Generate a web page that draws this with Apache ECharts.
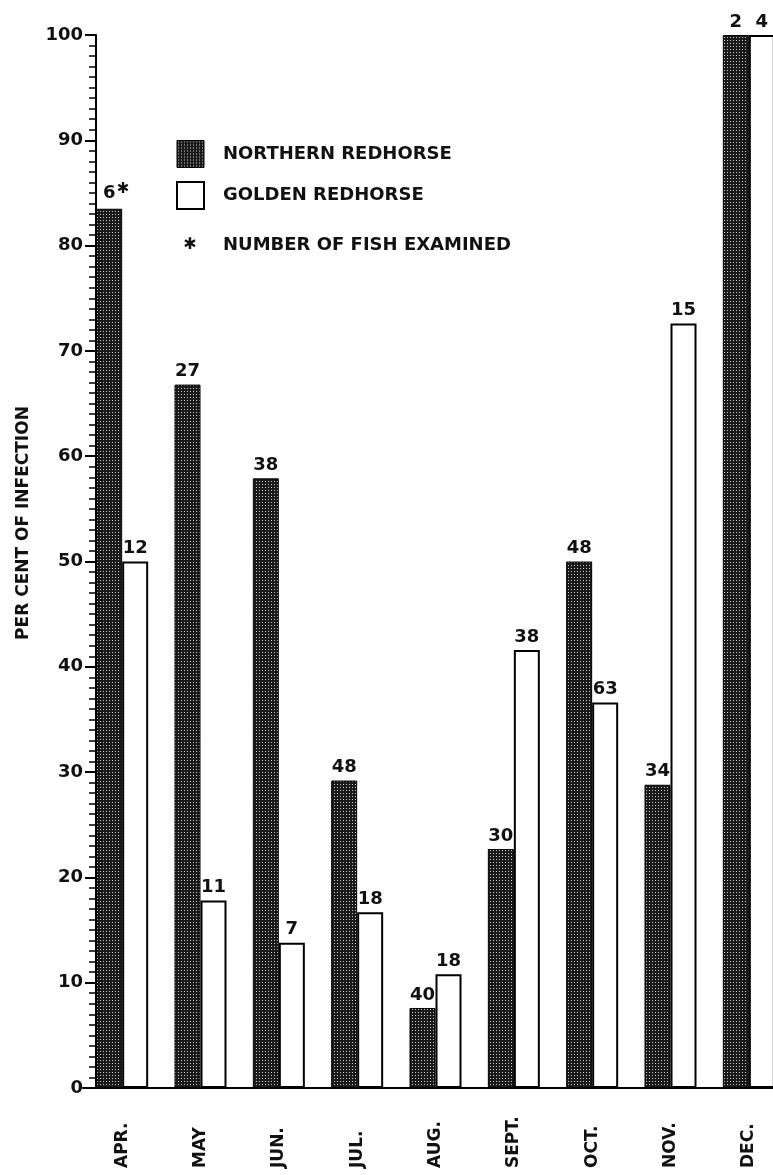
<!DOCTYPE html>
<html><head><meta charset="utf-8">
<script src="https://cdn.jsdelivr.net/npm/echarts@6/dist/echarts.min.js"></script>
<style>html,body{margin:0;padding:0;background:#fff}#c{width:773px;height:1175px}</style>
</head><body><div id="c"></div>
<script>
// ---- data ----
const months = ['APR.', 'MAY', 'JUN.', 'JUL.', 'AUG.', 'SEPT.', 'OCT.', 'NOV.', 'DEC.'];
const northernPct = [83.5, 66.8, 57.9, 29.2, 7.6, 22.7, 50, 28.8, 100];
const goldenPct = [50, 17.8, 13.8, 16.7, 10.8, 41.6, 36.6, 72.6, 100];
const northernFish = [6, 27, 38, 48, 40, 30, 48, 34, 2];
const goldenFish = [12, 11, 7, 18, 18, 38, 63, 15, 4];
const seriesNames = ['NORTHERN REDHORSE', 'GOLDEN REDHORSE'];
const noteText = 'NUMBER OF FISH EXAMINED';
const yTitle = 'PER CENT OF INFECTION';

// ---- stipple pattern ----
const pc = document.createElement('canvas');
pc.width = 3; pc.height = 3;
const g = pc.getContext('2d');
g.fillStyle = '#1a1a1a'; g.fillRect(0, 0, 3, 3);
g.fillStyle = '#c8c8c8'; g.fillRect(1, 1, 1, 1);
const stipple = { image: pc, repeat: 'repeat' };

const FONT = 'DejaVu Sans';
const ink = '#111';

const northernData = northernPct.map((v, i) => i === 0
  ? { value: v, label: { formatter: '{n|' + northernFish[0] + '}{s|✱}', offset: [7, 0] } }
  : v);

const chart = echarts.init(document.getElementById('c'), null, { renderer: 'canvas' });
chart.setOption({
  animation: false,
  backgroundColor: '#fff',
  grid: { left: 83, top: 35, bottom: 87, width: 705, containLabel: false, outerBoundsMode: 'none' },
  legend: {
    orient: 'vertical', left: 176, top: 140, padding: 0,
    itemWidth: 27, itemHeight: 27, itemGap: 13,
    textStyle: { fontFamily: FONT, fontWeight: 'bold', fontSize: 18, color: ink, padding: [0, 0, 0, 14] },
    data: [
      { name: seriesNames[0], icon: 'rect', itemStyle: { color: stipple, borderColor: '#000', borderWidth: 1 } },
      { name: seriesNames[1], icon: 'rect', itemStyle: { color: '#fff', borderColor: '#000', borderWidth: 2 } }
    ]
  },
  xAxis: {
    type: 'category', data: months, boundaryGap: true,
    axisLine: { lineStyle: { color: '#000', width: 2 } },
    axisTick: { show: false },
    axisLabel: {
      rotate: 90, align: 'left', verticalAlign: 'middle', margin: 80,
      fontFamily: FONT, fontWeight: 'bold', fontSize: 17, color: ink
    }
  },
  yAxis: {
    type: 'value', min: 0, max: 100, interval: 10, offset: -13,
    axisLine: { show: true, lineStyle: { color: '#000', width: 2 } },
    axisTick: { show: true, inside: false, length: 11, lineStyle: { color: '#000', width: 2 } },
    minorTick: { show: true, splitNumber: 10, length: 7, lineStyle: { color: '#000', width: 1.5 } },
    splitLine: { show: false },
    axisLabel: { margin: 13, fontFamily: FONT, fontWeight: 'bold', fontSize: 18, color: ink }
  },
  series: [
    {
      name: seriesNames[0], type: 'bar', data: northernData, barWidth: 26, barGap: '0%',
      itemStyle: { color: stipple, borderColor: '#000', borderWidth: 1 },
      label: {
        show: true, position: 'top', distance: 4,
        formatter: p => String(northernFish[p.dataIndex]),
        fontFamily: FONT, fontWeight: 'bold', fontSize: 18, color: ink,
        rich: {
          n: { fontFamily: FONT, fontWeight: 'bold', fontSize: 18, color: ink },
          s: { fontFamily: FONT, fontWeight: 'bold', fontSize: 15, color: ink, padding: [0, 0, 8, 1] }
        }
      }
    },
    {
      name: seriesNames[1], type: 'bar', data: goldenPct, barWidth: 26,
      itemStyle: { color: '#fff', borderColor: '#000', borderWidth: 2 },
      label: {
        show: true, position: 'top', distance: 4,
        formatter: p => String(goldenFish[p.dataIndex]),
        fontFamily: FONT, fontWeight: 'bold', fontSize: 18, color: ink
      }
    }
  ],
  graphic: [
    { type: 'text', x: 190, y: 245, style: { text: '✱', fontFamily: FONT, fontSize: 16, fill: ink, align: 'center', verticalAlign: 'middle' } },
    { type: 'text', x: 223, y: 245, style: { text: noteText, fontFamily: FONT, fontWeight: 'bold', fontSize: 18, fill: ink, align: 'left', verticalAlign: 'middle' } },
    { type: 'text', x: 24, y: 523, rotation: Math.PI / 2, style: { text: yTitle, fontFamily: FONT, fontWeight: 'bold', fontSize: 17, fill: ink, align: 'center', verticalAlign: 'middle' } }
  ]
});
</script></body></html>
